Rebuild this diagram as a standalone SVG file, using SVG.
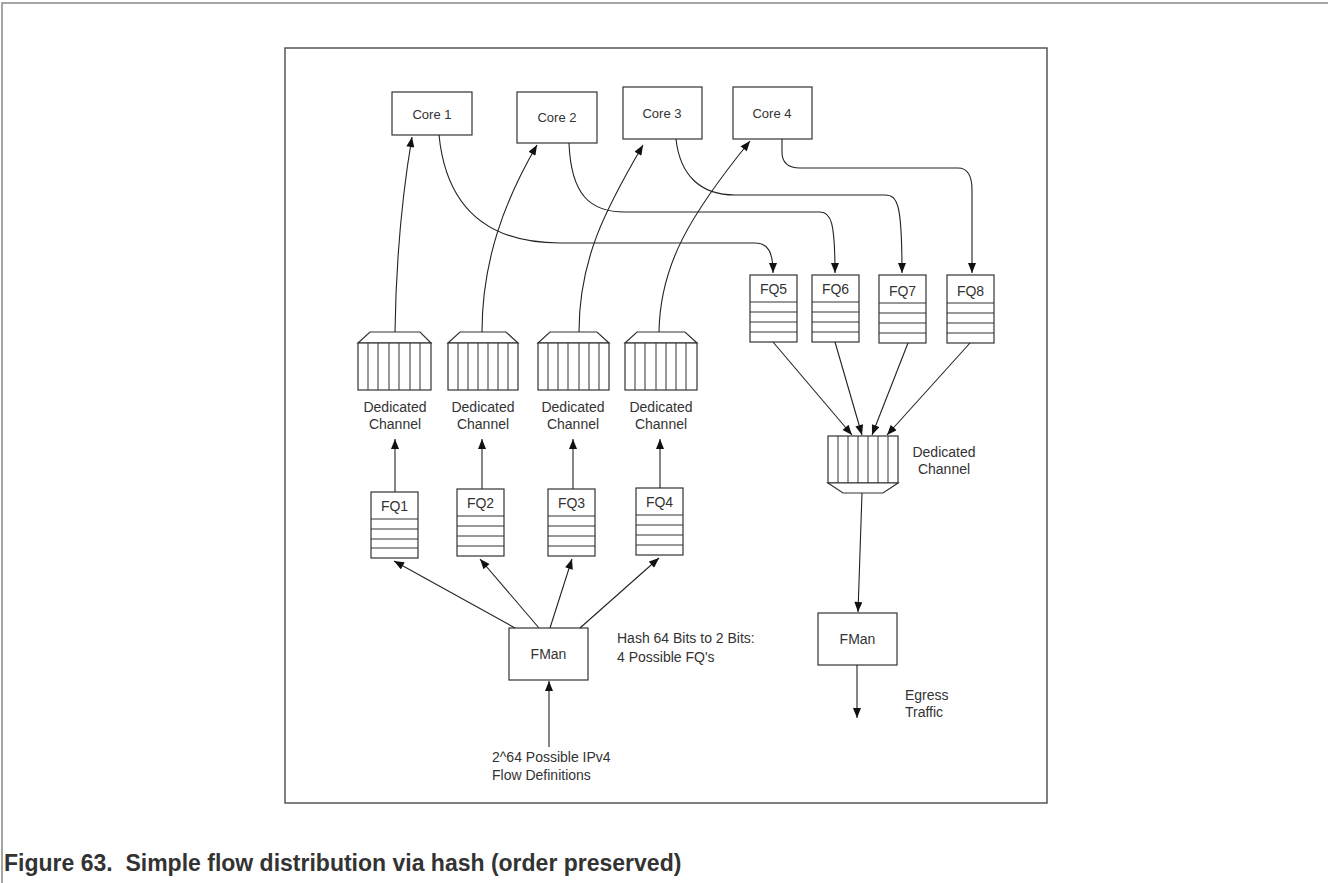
<svg xmlns="http://www.w3.org/2000/svg" width="1328" height="883" viewBox="0 0 1328 883">
<defs>
<marker id="ah" viewBox="0 0 10 8" refX="10" refY="4" markerWidth="11" markerHeight="8" markerUnits="userSpaceOnUse" orient="auto">
<path d="M0,0 L10,4 L0,8 Z" fill="#111"/>
</marker>
</defs>
<style>
.box{fill:#fff;stroke:#333;stroke-width:1.2}
.ln{fill:none;stroke:#333;stroke-width:1}
.cn{fill:none;stroke:#222;stroke-width:1.1;marker-end:url(#ah)}
.t{font-family:"Liberation Sans",Arial,sans-serif;font-size:14px;fill:#333}
.c{text-anchor:middle}
.frame{fill:none;stroke:#888;stroke-width:1.5}
.title{font-family:"Liberation Sans",Arial,sans-serif;font-size:23px;font-weight:bold;fill:#333}
</style>
<rect width="1328" height="883" fill="#fff"/>
<path class="frame" d="M2,883 L2,3 L1328,3"/>
<rect x="285" y="48" width="762" height="755" fill="none" stroke="#555" stroke-width="1.5"/>
<text class="title" x="4" y="871" xml:space="preserve">Figure 63.  Simple flow distribution via hash (order preserved)</text>

<g id="core1"><rect class="box" x="392" y="92" width="80" height="43"/><text class="t c" x="432" y="119" style="font-size:13px">Core 1</text></g>
<g id="core2"><rect class="box" x="517" y="92" width="80" height="51"/><text class="t c" x="557" y="122" style="font-size:13px">Core 2</text></g>
<g id="core3"><rect class="box" x="623" y="87" width="79" height="52"/><text class="t c" x="662" y="118" style="font-size:13px">Core 3</text></g>
<g id="core4"><rect class="box" x="733" y="87" width="79" height="52"/><text class="t c" x="772" y="118" style="font-size:13px">Core 4</text></g>

<g id="ch1">
<path class="box" d="M358,343 L370,332 L420,332 L431,343 Z"/>
<rect class="box" x="358" y="343" width="73" height="47"/>
<path class="ln" d="M368,343V390M378,343V390M389,343V390M399,343V390M410,343V390M420,343V390"/>
<text class="t c" x="395" y="412">Dedicated</text><text class="t c" x="395" y="429">Channel</text>
</g>
<g id="ch2">
<path class="box" d="M448,343 L460,332 L506,332 L518,343 Z"/>
<rect class="box" x="448" y="343" width="70" height="47"/>
<path class="ln" d="M458,343V390M468,343V390M478,343V390M488,343V390M498,343V390M508,343V390"/>
<text class="t c" x="483" y="412">Dedicated</text><text class="t c" x="483" y="429">Channel</text>
</g>
<g id="ch3">
<path class="box" d="M538,343 L550,332 L597,332 L609,343 Z"/>
<rect class="box" x="538" y="343" width="71" height="47"/>
<path class="ln" d="M548,343V390M558,343V390M568,343V390M579,343V390M589,343V390M599,343V390"/>
<text class="t c" x="573" y="412">Dedicated</text><text class="t c" x="573" y="429">Channel</text>
</g>
<g id="ch4">
<path class="box" d="M625,343 L637,332 L685,332 L697,343 Z"/>
<rect class="box" x="625" y="343" width="72" height="47"/>
<path class="ln" d="M635,343V390M645,343V390M656,343V390M666,343V390M676,343V390M686,343V390"/>
<text class="t c" x="661" y="412">Dedicated</text><text class="t c" x="661" y="429">Channel</text>
</g>

<g id="fq1"><rect class="box" x="371" y="492" width="47" height="66"/><path class="ln" d="M371,519H418M371,529H418M371,539H418M371,548H418"/><text class="t c" x="394.5" y="511">FQ1</text></g>
<g id="fq2"><rect class="box" x="457" y="489" width="47" height="67"/><path class="ln" d="M457,516H504M457,526H504M457,536H504M457,546H504"/><text class="t c" x="480.5" y="508">FQ2</text></g>
<g id="fq3"><rect class="box" x="548" y="489" width="47" height="67"/><path class="ln" d="M548,516H595M548,526H595M548,536H595M548,546H595"/><text class="t c" x="571.5" y="508">FQ3</text></g>
<g id="fq4"><rect class="box" x="636" y="488" width="47" height="67"/><path class="ln" d="M636,515H683M636,525H683M636,535H683M636,545H683"/><text class="t c" x="659.5" y="507">FQ4</text></g>

<g id="fq5"><rect class="box" x="750" y="275" width="47" height="67"/><path class="ln" d="M750,302H797M750,312H797M750,322H797M750,332H797"/><text class="t c" x="773.5" y="294">FQ5</text></g>
<g id="fq6"><rect class="box" x="812" y="275" width="47" height="67"/><path class="ln" d="M812,302H859M812,312H859M812,322H859M812,332H859"/><text class="t c" x="835.5" y="294">FQ6</text></g>
<g id="fq7"><rect class="box" x="879" y="275" width="47" height="68"/><path class="ln" d="M879,303H926M879,313H926M879,323H926M879,333H926"/><text class="t c" x="902.5" y="296">FQ7</text></g>
<g id="fq8"><rect class="box" x="947" y="275" width="47" height="68"/><path class="ln" d="M947,303H994M947,313H994M947,323H994M947,333H994"/><text class="t c" x="970.5" y="296">FQ8</text></g>

<g id="ch5">
<rect class="box" x="828" y="436" width="70" height="47"/>
<path class="box" d="M828,483 L843,493 L883,493 L898,483 Z"/>
<path class="ln" d="M838,436V483M848,436V483M858,436V483M868,436V483M878,436V483M888,436V483"/>
<text class="t c" x="944" y="457">Dedicated</text><text class="t c" x="944" y="474">Channel</text>
</g>

<g id="fman1"><rect class="box" x="509" y="628" width="79" height="52"/><text class="t c" x="548.5" y="659">FMan</text></g>
<g id="fman2"><rect class="box" x="818" y="613" width="79" height="52"/><text class="t c" x="857.5" y="644">FMan</text></g>

<g id="labels">
<text class="t" x="617" y="643">Hash 64 Bits to 2 Bits:</text>
<text class="t" x="617" y="662">4 Possible FQ's</text>
<text class="t" x="492" y="762">2^64 Possible IPv4</text>
<text class="t" x="492" y="780">Flow Definitions</text>
<text class="t" x="905" y="700">Egress</text>
<text class="t" x="905" y="717">Traffic</text>
</g>

<g id="connectors">
<path class="cn" d="M395,332 C396,260 403,190 412,137"/>
<path class="cn" d="M482,332 C482,260 505,200 537,145"/>
<path class="cn" d="M579,332 C579,260 605,210 643,145"/>
<path class="cn" d="M659,332 C660,265 690,215 750,141"/>

<path class="cn" d="M439,135 C446,205 485,243 560,243 L755,243 C768,243 773,252 773,273"/>
<path class="cn" d="M569,143 C571,195 590,212 625,212 L820,212 C831,212 835,222 835,273"/>
<path class="cn" d="M676,139 C680,175 700,195 735,195 L885,195 C898,195 902,205 902,273"/>
<path class="cn" d="M782,139 L782,152 C782,163 788,168 800,168 L958,168 C968,168 972,176 972,190 L972,273"/>

<path class="cn" d="M395,492 L395,439"/>
<path class="cn" d="M482,489 L482,439"/>
<path class="cn" d="M573,489 L573,439"/>
<path class="cn" d="M660,488 L660,439"/>

<path class="cn" d="M515,628 L394,561"/>
<path class="cn" d="M539,628 L480,559"/>
<path class="cn" d="M550,628 L572,559"/>
<path class="cn" d="M580,628 L659,558"/>

<path class="cn" d="M549,747 L549,681"/>

<path class="cn" d="M773,342 L852,435"/>
<path class="cn" d="M835,342 L862,435"/>
<path class="cn" d="M908,343 L872,435"/>
<path class="cn" d="M970,343 L887,435"/>

<path class="cn" d="M862,493 L858,612"/>
<path class="cn" d="M857,665 L857,718"/>
</g>
</svg>
